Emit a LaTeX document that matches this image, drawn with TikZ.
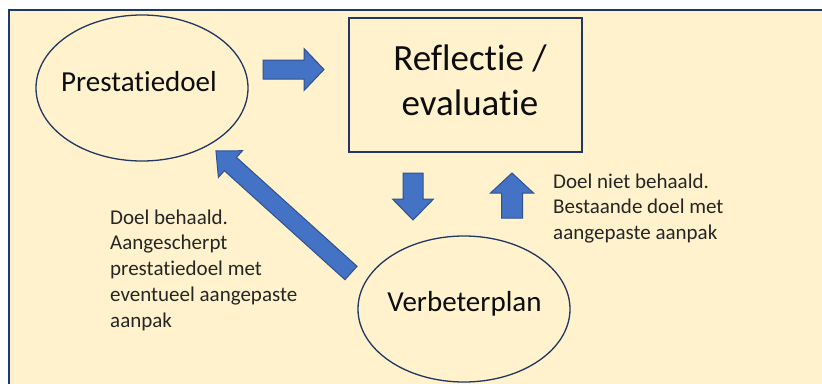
\documentclass[tikz,border=0pt]{standalone}
\usepackage{fontspec}
\setmainfont{Carlito}[Ligatures={NoCommon,NoContextual}]
\usetikzlibrary{shapes.geometric}
\definecolor{kader}{HTML}{1F3864}
\definecolor{achtergrond}{HTML}{FFF2CC}
\definecolor{pijlblauw}{HTML}{4472C4}
\definecolor{pijlrand}{HTML}{2F528F}
\definecolor{tekstgrijs}{HTML}{262626}
\definecolor{tekstzwart}{HTML}{0D0D0D}
\def\blokpijl(#1)(#2:#3:#4:#5:#6){\draw[blokpijl, shift={(#1)}, rotate=#2] (0,-#4) -- ({#3-#6},-#4) -- ({#3-#6},-#5) -- (#3,0) -- ({#3-#6},#5) -- ({#3-#6},#4) -- (0,#4) -- cycle;}

\begin{document}
\begin{tikzpicture}[x=1pt, y=-1pt,
	doelvorm/.style={ellipse, draw=kader, line width=1.3pt, minimum width=212pt, minimum height=146pt, inner sep=0pt},
	kaderbox/.style={rectangle, draw=kader, line width=1.3pt, minimum width=233pt, minimum height=134pt, inner sep=0pt},
	grotetekst/.style={inner sep=0pt, align=center, text=tekstzwart, font=\fontsize{37}{45}\selectfont},
	middeltekst/.style={inner sep=0pt, anchor=base, text=tekstzwart, font=\fontsize{29}{35}\selectfont},
	kleintekst/.style={inner sep=0pt, anchor=north west, align=left, text=tekstgrijs, font=\fontsize{21}{25.7}\selectfont},
	blokpijl/.style={draw=pijlrand, fill=pijlblauw, line width=1pt, line join=miter}]
			%%%%% START %%%%%
			
			\useasboundingbox (0,0) rectangle (822,383);
			\clip (0,0) rectangle (822,383);
			\draw[kader, fill=achtergrond, line width=1.8pt] (9,10) rectangle (840,400);
			
			\node[doelvorm] (prestatiedoel) at (142,88) {};
			\node[middeltekst] (prestatiedoeltekst) at (139,91.7) {Prestatiedoel};
			
			\node[kaderbox] (reflectie) at (465.5,85) {};
			\node[grotetekst] (reflectietekst) at (470,80) {Reflectie /\\evaluatie};
			
			\node[doelvorm] (verbeterplan) at (464,309) {};
			\node[middeltekst] (verbeterplantekst) at (464.5,311.7) {Verbeterplan};
			
			% blokpijlen
			\blokpijl(263,69.5)(0:61:9.5:21:20)
			\blokpijl(413,173)(-90:47:10:20.5:21)
			\blokpijl(512,218)(90:45:10.5:21.5:20)
			\blokpijl(351,273)(137.9:182:9:18:19.5)
			
			\node[kleintekst] (behaald) at (110,209.5) {Doel behaald.\\Aangescherpt\\prestatiedoel met\\eventueel aangepaste\\aanpak};
			\node[kleintekst] (nietbehaald) at (553,173.3) {Doel niet behaald.\\Bestaande doel met\\aangepaste aanpak};
			
			%%%%% END %%%%%
\end{tikzpicture}
\end{document}
